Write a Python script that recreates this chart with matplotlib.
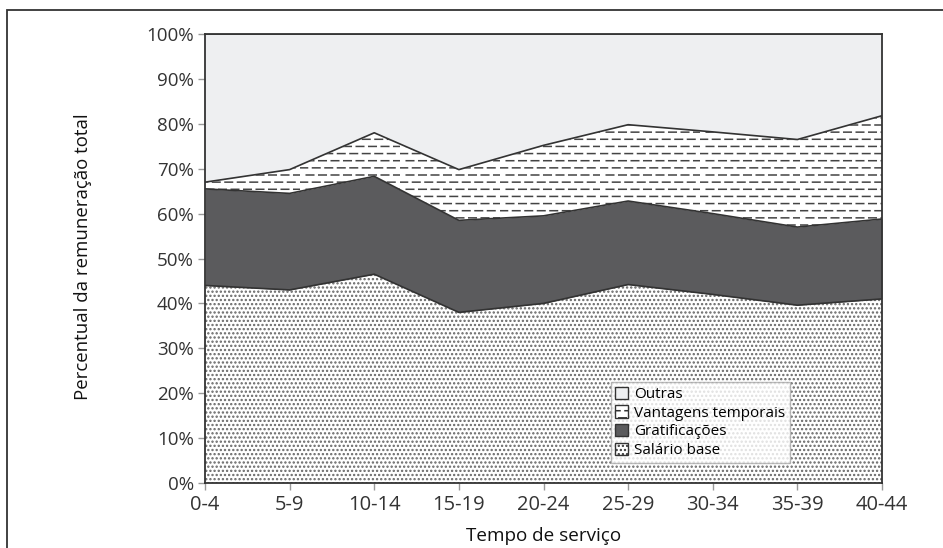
import warnings
import numpy as np
import matplotlib
matplotlib.use('Agg')
import matplotlib.pyplot as plt
from matplotlib import hatch as mhatch
from matplotlib.path import Path
from matplotlib.patches import Rectangle, Patch

warnings.filterwarnings('ignore')
plt.rcParams['font.family'] = ['Open Sans', 'DejaVu Sans']
plt.rcParams['hatch.linewidth'] = 1.1


# short staggered dashes, like the printed pattern ('_' in the hatch string)
class DashHatch(mhatch.HatchPatternBase):
    rows = 14
    per_row = 8

    def __init__(self, hatch, density):
        self.num_vertices = self.rows * self.per_row * 2 if '_' in hatch else 0

    def set_vertices_and_codes(self, vertices, codes):
        i = 0
        for r in range(self.rows):
            yy = (r + 0.5) / self.rows
            shift = 0.5 / self.per_row if r % 2 else 0.0
            for c in range(self.per_row):
                x0 = c / self.per_row + shift
                vertices[i] = (x0, yy)
                vertices[i + 1] = (x0 + 0.6 / self.per_row, yy)
                codes[i] = Path.MOVETO
                codes[i + 1] = Path.LINETO
                i += 2


mhatch._hatch_types.append(DashHatch)

# tempo de serviço (anos)
faixas = ['0-4', '5-9', '10-14', '15-19', '20-24', '25-29', '30-34', '35-39', '40-44']

# cumulative tops (% of total remuneration)
salario = [44.0, 43.0, 46.5, 38.0, 40.0, 44.2, 42.0, 39.6, 41.0]
topo_grat = [65.5, 64.5, 68.3, 58.5, 59.5, 62.8, 60.0, 57.0, 58.8]
topo_vant = [67.0, 69.8, 78.0, 69.8, 75.2, 79.8, 78.2, 76.5, 81.8]

gratificacoes = np.array(topo_grat) - np.array(salario)
vantagens = np.array(topo_vant) - np.array(topo_grat)
outras = 100 - np.array(topo_vant)

fig = plt.figure(figsize=(9.43, 5.48), dpi=100)
ax = fig.add_axes([205 / 943, 1 - 483 / 548, 677 / 943, 449 / 548])

x = np.arange(len(faixas))
camadas = [
    ('Salário base', np.array(salario), 'white', '....', '#666666'),
    ('Gratificações', gratificacoes, '#5b5b5d', None, '#5b5b5d'),
    ('Vantagens temporais', vantagens, 'white', '_', '#444444'),
    ('Outras', outras, '#eeeff1', None, '#eeeff1'),
]

base = np.zeros(len(x))
handles = []
for nome, vals, cor, hatch, hcor in camadas:
    topo = base + vals
    ax.fill_between(x, base, topo, facecolor=cor, hatch=hatch, edgecolor=hcor,
                    linewidth=0)
    ax.plot(x, topo, color='#333333', lw=1.2)
    handles.append(Patch(facecolor=cor, hatch=hatch, edgecolor='#333333',
                         linewidth=1.0, label=nome))
    base = topo

ax.set_xlim(0, len(x) - 1)
ax.set_ylim(0, 100)
ax.set_xticks(x)
ax.set_xticklabels(faixas)
ax.set_yticks(np.arange(0, 101, 10))
ax.set_yticklabels([f'{v}%' for v in range(0, 101, 10)])
ax.tick_params(colors='#999999', labelcolor='#333333', length=5, width=1)
ax.tick_params(axis='y', labelsize=13.5, pad=3)
ax.tick_params(axis='x', labelsize=14.5, pad=4)
for s in ax.spines.values():
    s.set_color('#333333')
    s.set_linewidth(1.3)

ax.set_xlabel('Tempo de serviço', fontsize=13.6, color='#111111')
ax.xaxis.set_label_coords(0.5, -0.097)
ax.set_ylabel('Percentual da remuneração total', fontsize=13.4,
              color='#111111', va='center')
ax.yaxis.set_label_coords(-0.18, 0.505)

leg = ax.legend(handles=handles[::-1], loc='lower right',
                bbox_to_anchor=(0.864, 0.045), fontsize=11, frameon=True,
                fancybox=False, edgecolor='#aaaaaa', handlelength=0.85,
                handleheight=0.85, handletextpad=0.4, borderpad=0.3,
                labelspacing=0.22, borderaxespad=0)
leg.get_frame().set_linewidth(1.0)

# outer frame around the figure
fig.patches.append(Rectangle((7 / 943, -0.1), 1.2, 1 - 10 / 548 + 0.1,
                             transform=fig.transFigure, fill=False,
                             edgecolor='#333333', linewidth=1.3))

fig.savefig('out.png', dpi=100)
